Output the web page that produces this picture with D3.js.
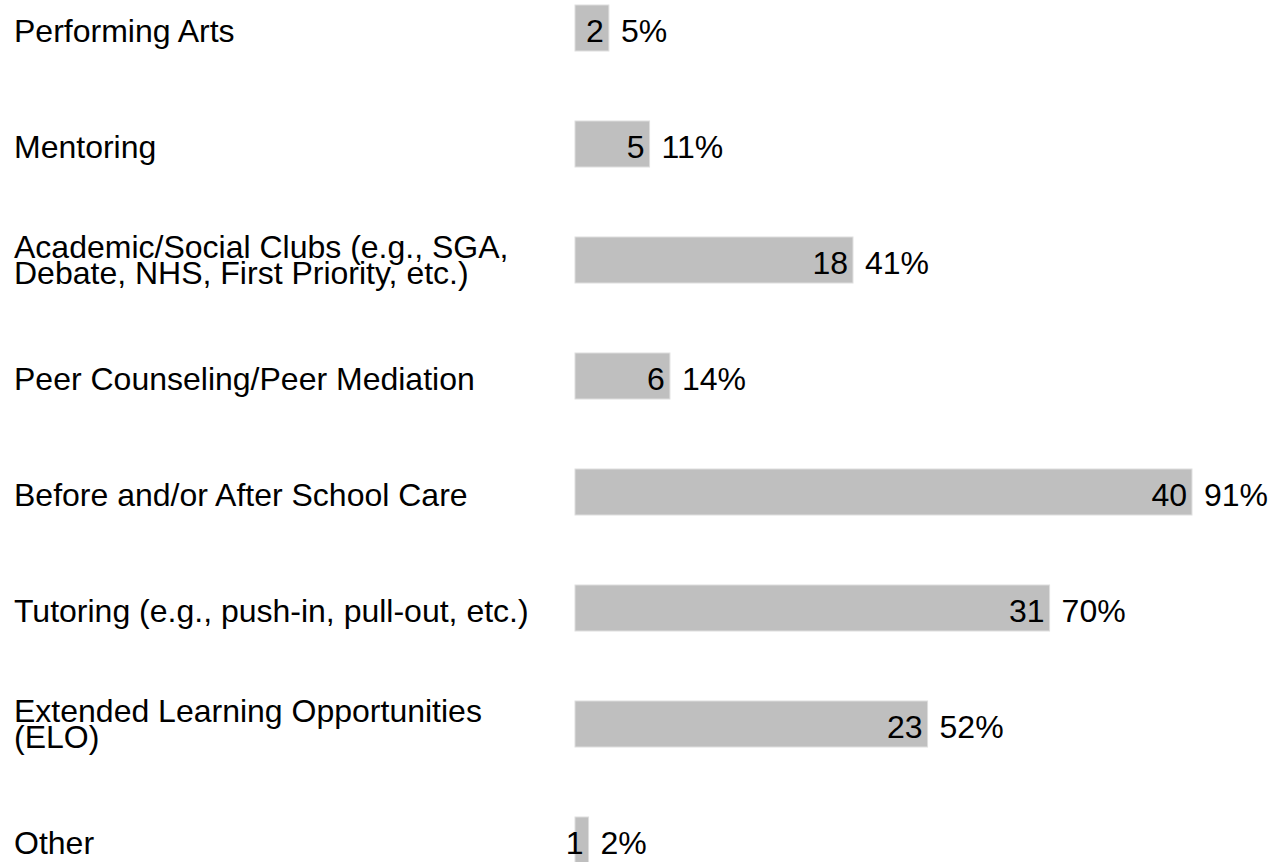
<!DOCTYPE html>
<html>
<head>
<meta charset="utf-8">
<script src="https://cdn.jsdelivr.net/npm/d3@7"></script>
<style>
  html, body { margin: 0; padding: 0; background: #fff; overflow: hidden; }
  svg { display: block; }
  text { font-family: "Liberation Sans", Arial, sans-serif; fill: #000; }
</style>
</head>
<body>
<svg id="chart" width="1272" height="862"></svg>
<script>
const categories = [
  ["Performing Arts"],
  ["Mentoring"],
  ["Academic/Social Clubs (e.g., SGA,", "Debate, NHS, First Priority, etc.)"],
  ["Peer Counseling/Peer Mediation"],
  ["Before and/or After School Care"],
  ["Tutoring (e.g., push-in, pull-out, etc.)"],
  ["Extended Learning Opportunities", "(ELO)"],
  ["Other"]
];
const counts = [2, 5, 18, 6, 40, 31, 23, 1];
const percents = [5, 11, 41, 14, 91, 70, 52, 2];

const svg = d3.select("#chart");
const keys = categories.map((c, i) => i);

const x = d3.scaleLinear().domain([0, 100]).range([575, 1253]);
const y = d3.scaleBand().domain(keys).range([5, 863]).paddingInner(70 / 116).paddingOuter(0).align(0);

const fs = 32;
const lh = 26;

const rows = svg.selectAll("g.row").data(keys).enter().append("g").attr("class", "row");

rows.append("rect")
  .attr("x", x(0))
  .attr("y", i => y(i))
  .attr("width", i => x(percents[i]) - x(0))
  .attr("height", y.bandwidth())
  .attr("fill", "#bfbfbf")
  .attr("stroke", "#dedede")
  .attr("stroke-width", 1);

const mid = i => y(i) + y.bandwidth() / 2;

rows.each(function (i) {
  const lines = categories[i];
  const n = lines.length;
  const t = d3.select(this).append("text")
    .attr("x", 14)
    .attr("font-size", fs);
  lines.forEach((ln, k) => {
    t.append("tspan")
      .attr("x", 14)
      .attr("y", mid(i) + 13.5 - (n - 1) * 15.8 + k * lh)
      .text(ln);
  });
});

rows.append("text")
  .attr("x", i => x(percents[i]) - 5)
  .attr("y", i => mid(i) + 13.5)
  .attr("text-anchor", "end")
  .attr("font-size", fs)
  .text(i => counts[i]);

rows.append("text")
  .attr("x", i => x(percents[i]) + 12)
  .attr("y", i => mid(i) + 13.5)
  .attr("font-size", fs)
  .text(i => percents[i] + "%");
</script>
</body>
</html>
